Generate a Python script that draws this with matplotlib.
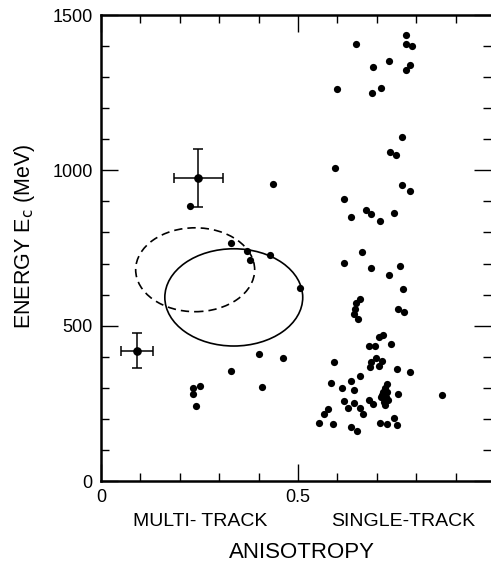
import numpy as np
import matplotlib.pyplot as plt
from matplotlib.patches import Ellipse
from matplotlib.ticker import MultipleLocator

plt.rcParams['font.family'] = ['Liberation Sans', 'DejaVu Sans']

# single-track events (anisotropy, energy MeV)
single_x = [0.774, 0.648, 0.774, 0.789, 0.730, 0.690, 0.785, 0.773, 0.600, 0.710,
            0.687, 0.765, 0.733, 0.749, 0.594, 0.763, 0.785, 0.617, 0.673, 0.686,
            0.744, 0.634, 0.707, 0.662, 0.616, 0.686, 0.758, 0.730, 0.766, 0.658,
            0.647, 0.644, 0.641, 0.653, 0.755, 0.769, 0.705, 0.717, 0.681, 0.695,
            0.735, 0.591, 0.685, 0.698, 0.713, 0.683, 0.706, 0.751, 0.784, 0.657,
            0.635, 0.583, 0.611, 0.641, 0.727, 0.715, 0.727, 0.755, 0.865, 0.618,
            0.641, 0.679, 0.690, 0.711, 0.718, 0.729, 0.722, 0.628, 0.658, 0.664,
            0.575, 0.566, 0.553, 0.588, 0.635, 0.649, 0.708, 0.725, 0.743, 0.752,
            0.720, 0.712, 0.724]
single_y = [1435, 1407, 1407, 1399, 1353, 1333, 1340, 1322, 1261, 1265,
            1248, 1108, 1060, 1049, 1007, 954, 934, 909, 873, 860,
            864, 851, 836, 736, 701, 686, 693, 663, 617, 586,
            572, 555, 538, 520, 554, 545, 465, 469, 435, 435,
            441, 384, 384, 395, 387, 366, 370, 360, 350, 337,
            323, 314, 299, 293, 312, 287, 287, 280, 277, 258,
            250, 261, 247, 271, 255, 261, 245, 234, 234, 215,
            232, 216, 188, 183, 175, 161, 188, 183, 204, 181,
            298, 278, 270]

# multi-track events
multi_x = [0.226, 0.436, 0.330, 0.371, 0.377, 0.429, 0.505, 0.400, 0.462, 0.330,
           0.409, 0.234, 0.251, 0.233, 0.241]
multi_y = [886, 957, 766, 741, 711, 726, 622, 408, 395, 355,
           302, 298, 306, 281, 241]

# points with error bars
err_x = [0.247, 0.091]
err_y = [976, 420]
err_dx = [0.062, 0.040]
err_dy = [94, 56]

# ellipses: centre x, centre y, width, height
solid_ell = (0.337, 591, 0.350, 313)
dashed_ell = (0.239, 680, 0.302, 270)

fig = plt.figure(figsize=(4.91, 5.65), dpi=100)
ax = fig.add_axes([101/491, 84/565, 390/491, 466/565])

ax.plot(single_x, single_y, 'o', color='black', markersize=5.2, markeredgewidth=0)
ax.plot(multi_x, multi_y, 'o', color='black', markersize=5.2, markeredgewidth=0)
ax.errorbar(err_x, err_y, xerr=err_dx, yerr=err_dy, fmt='o', color='black',
            markersize=5.2, elinewidth=1.1, capsize=3.5, capthick=1.1)

ax.add_patch(Ellipse(solid_ell[:2], solid_ell[2], solid_ell[3], fill=False,
                     edgecolor='black', linewidth=1.2))
ax.add_patch(Ellipse(dashed_ell[:2], dashed_ell[2], dashed_ell[3], fill=False,
                     edgecolor='black', linewidth=1.2, linestyle=(0, (5, 3))))

ax.set_xlim(0, 390/394)
ax.set_ylim(0, 1500)

ax.xaxis.set_major_locator(MultipleLocator(0.5))
ax.xaxis.set_minor_locator(MultipleLocator(0.1))
ax.yaxis.set_major_locator(MultipleLocator(500))
ax.yaxis.set_minor_locator(MultipleLocator(100))
ax.set_xticks([0, 0.5])
ax.set_xticklabels(['0', '0.5'])

ax.tick_params(which='both', direction='in', top=True, right=True, width=1.0,
               labelsize=13, color='black')
ax.tick_params(which='major', length=12, pad=6)
ax.tick_params(which='minor', length=6)

for s in ['left', 'bottom', 'top']:
    ax.spines[s].set_linewidth(1.8)
ax.spines['right'].set_visible(False)

fig.text(25/491, 1 - 236/565, 'ENERGY E$_\\mathrm{c}$ (MeV)', rotation=90,
         ha='center', va='center', fontsize=15.5)
fig.text(200/491, 1 - 521/565, 'MULTI- TRACK', ha='center', va='center', fontsize=14)
fig.text(403/491, 1 - 521/565, 'SINGLE-TRACK', ha='center', va='center', fontsize=14)
fig.text(302/491, 1 - 553/565, 'ANISOTROPY', ha='center', va='center', fontsize=16)

fig.savefig('out.png', dpi=100)
